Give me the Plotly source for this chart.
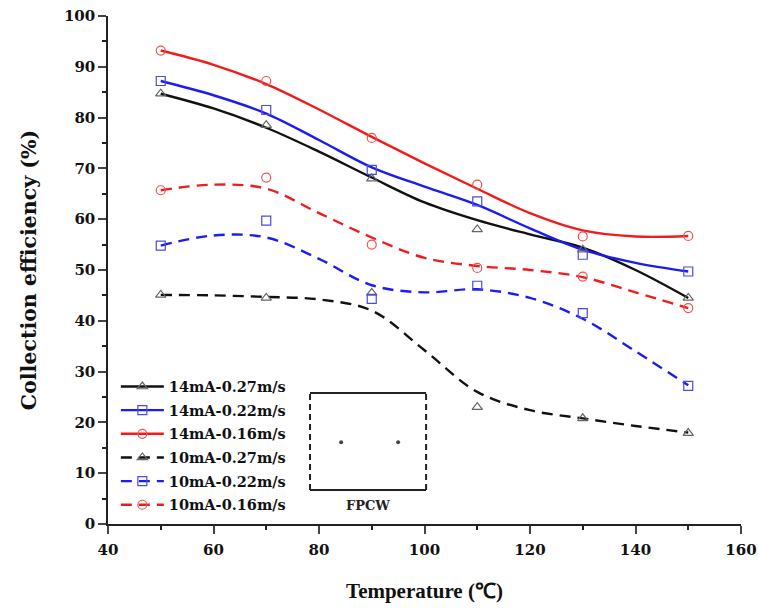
import plotly.graph_objects as go

# ---- data ----
temps = [50, 70, 90, 110, 130, 150]
curve_t = [50, 60, 70, 80, 90, 100, 110, 120, 130, 140, 150]

names = ["14mA-0.27m/s", "14mA-0.22m/s", "14mA-0.16m/s",
         "10mA-0.27m/s", "10mA-0.22m/s", "10mA-0.16m/s"]

pts_14_027 = [84.7, 78.5, 68.0, 58.0, 54.0, 44.5]
pts_14_022 = [87.2, 81.5, 69.7, 63.5, 53.0, 49.7]
pts_14_016 = [93.2, 87.2, 76.0, 66.8, 56.6, 56.7]
pts_10_027 = [45.1, 44.5, 45.5, 23.0, 20.8, 17.9]
pts_10_022 = [54.8, 59.7, 44.3, 46.9, 41.5, 27.2]
pts_10_016 = [65.7, 68.2, 55.0, 50.4, 48.7, 42.5]

fit_14_027 = [84.7, 81.8, 78.0, 73.3, 68.2, 63.3, 59.8, 57.0, 54.4, 50.0, 44.5]
fit_14_022 = [87.2, 84.4, 80.8, 75.6, 70.2, 66.4, 62.8, 58.2, 54.0, 51.4, 49.7]
fit_14_016 = [93.2, 90.4, 86.6, 81.6, 76.2, 71.0, 66.0, 61.2, 57.8, 56.6, 56.7]
fit_10_027 = [45.1, 45.0, 44.7, 44.2, 42.0, 34.2, 26.0, 22.4, 20.8, 19.3, 18.0]
fit_10_022 = [54.8, 56.8, 56.4, 52.2, 47.0, 45.6, 46.2, 44.5, 40.4, 34.0, 27.3]
fit_10_016 = [65.7, 66.8, 66.0, 61.2, 56.4, 52.4, 50.8, 50.0, 48.6, 45.6, 42.5]

x_ticks = [40, 60, 80, 100, 120, 140, 160]
y_ticks = [0, 10, 20, 30, 40, 50, 60, 70, 80, 90, 100]

points = [pts_14_027, pts_14_022, pts_14_016, pts_10_027, pts_10_022, pts_10_016]
fits = [fit_14_027, fit_14_022, fit_14_016, fit_10_027, fit_10_022, fit_10_016]

line_colors = ["#111111", "#1c1cf0", "#f01c1c", "#111111", "#1c1cf0", "#f01c1c"]
marker_colors = ["#666666", "#4a4ae8", "#f05050", "#666666", "#4a4ae8", "#f05050"]
symbols = ["triangle-up-open", "square-open", "circle-open",
           "triangle-up-open", "square-open", "circle-open"]
dashes = ["solid", "solid", "solid", "11px,7px", "11px,7px", "11px,7px"]

SERIF = "Liberation Serif, Times New Roman, serif"
WIDE = "DejaVu Serif, serif"

fig = go.Figure()

for i in range(6):
    fig.add_trace(go.Scatter(
        x=curve_t, y=fits[i], mode="lines", line_shape="spline",
        line=dict(color=line_colors[i], width=2.4, dash=dashes[i]),
        showlegend=False, hoverinfo="skip"))
for i in range(6):
    fig.add_trace(go.Scatter(
        x=temps, y=points[i], mode="markers",
        marker=dict(symbol=symbols[i], size=9, color=marker_colors[i],
                    line=dict(width=1.2, color=marker_colors[i])),
        showlegend=False))
# legend entries
for i in range(6):
    fig.add_trace(go.Scatter(
        x=[None], y=[None], mode="lines+markers", name=names[i],
        line=dict(color=line_colors[i], width=2.4, dash=dashes[i]),
        marker=dict(symbol=symbols[i], size=9, color=marker_colors[i],
                    line=dict(width=1.2, color=marker_colors[i])),
        legendgroup=f"g{i}"))

# FPCW inset box
shapes = [
    dict(type="line", x0=78.3, x1=100.3, y0=25.8, y1=25.8, line=dict(color="#222", width=2)),
    dict(type="line", x0=78.3, x1=100.3, y0=6.7, y1=6.7, line=dict(color="#222", width=2)),
    dict(type="line", x0=78.3, x1=78.3, y0=6.7, y1=25.8, line=dict(color="#222", width=2, dash="6px,4px")),
    dict(type="line", x0=100.3, x1=100.3, y0=6.7, y1=25.8, line=dict(color="#222", width=2, dash="6px,4px")),
]
fig.add_trace(go.Scatter(x=[84.2, 95.0], y=[16.1, 16.1], mode="markers",
                         marker=dict(size=4, color="#444"), showlegend=False))

fig.update_layout(
    width=759, height=610,
    margin=dict(l=108, r=18, t=16, b=86),
    paper_bgcolor="white", plot_bgcolor="white",
    font=dict(family=WIDE, size=15, color="#111"),
    shapes=shapes,
    annotations=[dict(x=89.3, y=3.6, xref="x", yref="y", text="<b>FPCW</b>",
                      showarrow=False, font=dict(family=WIDE, size=13, color="#222"))],
    legend=dict(x=0.0124, y=0.302, xanchor="left", yanchor="top",
                bgcolor="rgba(0,0,0,0)", tracegroupgap=1.8,
                font=dict(family=WIDE, size=14.5, color="#111", weight="bold"),
                itemwidth=43),
    xaxis=dict(range=[40, 160], tickvals=x_ticks, ticks="outside", ticklen=8, tickwidth=1.5,
               showline=True, linecolor="#222", linewidth=1.5, showgrid=False, zeroline=False,
               automargin=False, ticklabelstandoff=3, ticklabeloverflow="allow",
               minor=dict(dtick=10, ticks="outside", ticklen=4, tickcolor="#222"),
               tickfont=dict(family=WIDE, size=15, weight="bold"),
               title=dict(text="Temperature (℃)", font=dict(family=SERIF, size=21, weight="bold"), standoff=26)),
    yaxis=dict(range=[0, 100], tickvals=y_ticks, ticks="outside", ticklen=8, tickwidth=1.5,
               showline=True, linecolor="#222", linewidth=1.5, showgrid=False, zeroline=False,
               automargin=False, ticklabeloverflow="allow",
               minor=dict(dtick=5, ticks="outside", ticklen=4, tickcolor="#222"),
               tickfont=dict(family=WIDE, size=15, weight="bold"),
               title=dict(text="Collection efficiency (%)", font=dict(family=WIDE, size=20.5, weight="bold"), standoff=22)),
)

fig.write_html("out.html", config={"displayModeBar": False},
               post_script="document.body.style.margin='0px';")
